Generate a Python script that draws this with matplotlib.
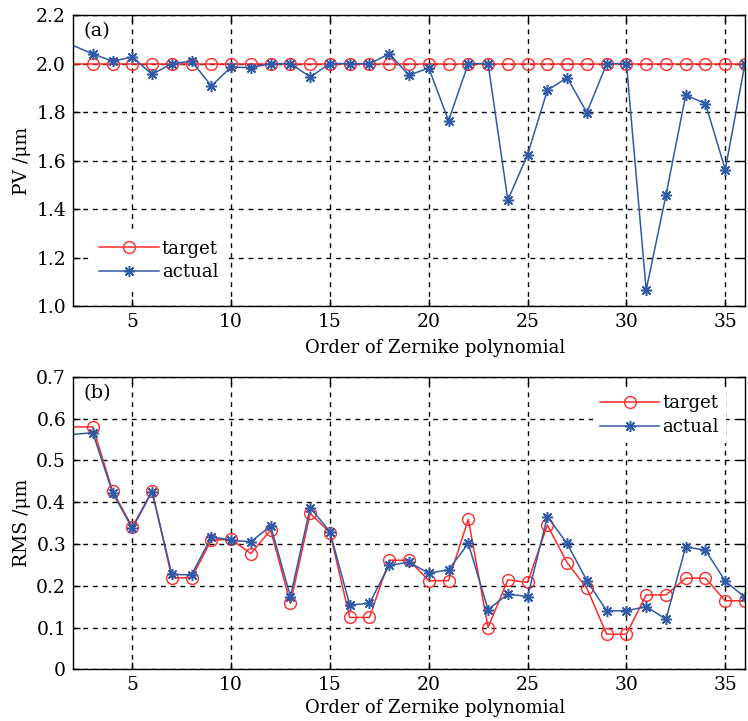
import matplotlib
matplotlib.use("Agg")
import matplotlib.pyplot as plt
import numpy as np

# Zernike orders 2..36
order = np.arange(2, 37)

pv_target = [2.0] * len(order)
pv_actual = [2.075, 2.04, 2.01, 2.027, 1.956, 2.0, 2.01, 1.908, 1.986, 1.983,
             2.0, 2.0, 1.945, 2.0, 2.0, 2.0, 2.04, 1.952, 1.982, 1.765,
             2.0, 2.0, 1.437, 1.625, 1.89, 1.942, 1.798, 2.0, 2.0, 1.066,
             1.457, 1.87, 1.835, 1.563, 2.0]

rms_target = [0.58, 0.58, 0.427, 0.34, 0.427, 0.219, 0.219, 0.309, 0.311, 0.277,
              0.333, 0.158, 0.373, 0.327, 0.124, 0.124, 0.261, 0.261, 0.212, 0.212,
              0.359, 0.10, 0.214, 0.208, 0.345, 0.255, 0.194, 0.084, 0.084, 0.178,
              0.178, 0.218, 0.218, 0.164, 0.164]
rms_actual = [0.562, 0.566, 0.423, 0.337, 0.425, 0.227, 0.226, 0.317, 0.309, 0.305,
              0.343, 0.174, 0.387, 0.329, 0.154, 0.158, 0.249, 0.256, 0.23, 0.238,
              0.301, 0.143, 0.18, 0.174, 0.365, 0.301, 0.212, 0.14, 0.14, 0.15,
              0.12, 0.293, 0.285, 0.211, 0.172]

pv_ticks = [1.0, 1.2, 1.4, 1.6, 1.8, 2.0, 2.2]
pv_labels = ["1.0", "1.2", "1.4", "1.6", "1.8", "2.0", "2.2"]
rms_ticks = [0, 0.1, 0.2, 0.3, 0.4, 0.5, 0.6, 0.7]
rms_labels = ["0", "0.1", "0.2", "0.3", "0.4", "0.5", "0.6", "0.7"]
x_ticks = [5, 10, 15, 20, 25, 30, 35]

RED = "#ff2a2a"
BLUE = "#2f5aa8"

plt.rcParams["font.family"] = ["DejaVu Serif"]
plt.rcParams["font.size"] = 13.5

fig = plt.figure(figsize=(7.48, 7.21), dpi=100)
ax1 = fig.add_axes([0.0976, 0.5756, 0.8984, 0.4034])
ax2 = fig.add_axes([0.0976, 0.0717, 0.8984, 0.4058])

skip = list(range(1, len(order)))


def style(ax, ticks, labels, ylim, ylabel, tag, label_y):
    ax.set_xlim(2, 36)
    ax.set_ylim(*ylim)
    ax.set_xticks(x_ticks)
    ax.set_yticks(ticks)
    ax.set_yticklabels(labels)
    ax.tick_params(direction="in", top=True, right=True, length=5, width=1,
                   labelsize=13.5, pad=5)
    ax.grid(True, color="black", linestyle=(0, (3.5, 3.5)), linewidth=1)
    ax.set_axisbelow(True)
    for s in ax.spines.values():
        s.set_linewidth(1)
    ax.set_ylabel(ylabel, labelpad=4, fontsize=13.5)
    ax.set_xlabel("Order of Zernike polynomial", fontsize=13)
    ax.xaxis.set_label_coords(0.539, label_y)
    ax.text(0.015, 0.975, tag, transform=ax.transAxes, ha="left", va="top",
            fontsize=14)


def draw(ax, target, actual):
    ax.plot(order, target, color=RED, lw=1.1, marker="o", ms=8.5,
            mfc="none", mec=RED, mew=1.0, markevery=skip, label="target")
    ax.plot(order, actual, color=BLUE, lw=1.1, marker=(8, 2, 0), ms=8,
            mec=BLUE, mew=1.1, markevery=skip, label="actual")


leg_kw = dict(frameon=True, fancybox=False, edgecolor="none",
              facecolor="white", framealpha=1, handlelength=3.3,
              handletextpad=0.15, borderpad=0.4, labelspacing=0.3,
              fontsize=13)

draw(ax1, pv_target, pv_actual)
style(ax1, pv_ticks, pv_labels, (1.0, 2.2), "PV /\u03bcm", "(a)", -0.112)
ax1.legend(loc="lower left", bbox_to_anchor=(0.015, 0.03), **leg_kw)

draw(ax2, rms_target, rms_actual)
style(ax2, rms_ticks, rms_labels, (0, 0.7), "RMS /\u03bcm", "(b)", -0.103)
ax2.legend(loc="upper right", bbox_to_anchor=(0.985, 0.995), **leg_kw)

fig.savefig("out.png", dpi=100)
